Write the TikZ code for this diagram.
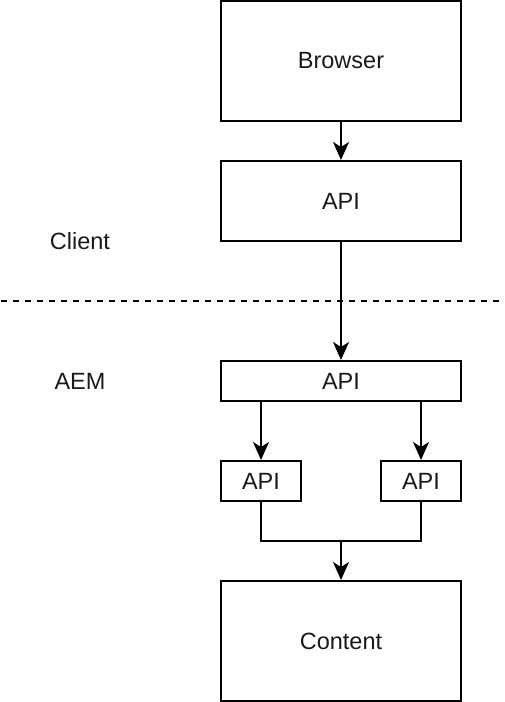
\documentclass[tikz,border=0pt]{standalone}
\usepackage{fontspec}
\setmainfont{Liberation Sans}
\usetikzlibrary{arrows.meta}
\usetikzlibrary{positioning}
\tikzset{every node/.style={font=\fontsize{23.5}{28}\selectfont, text=black!90}}
\tikzset{box/.style={draw, line width=2pt, inner sep=0pt, minimum width=240, minimum height=80}}
\tikzset{arr/.style={line width=2pt, -{Stealth[length=18pt, width=16pt, inset=5pt]}}}

\begin{document}
\begin{tikzpicture}[x=1pt, y=-1pt]

\useasboundingbox (0,0) rectangle (504,702);

% client side
\node[box, minimum height=120] (browser) at (341,61) {Browser};
\node[box] (capi) at (341,201) {API};

\node (client) at (80,241) {Client};

% trennlinie
\coordinate (DL) at (1,301);
\coordinate (DR) at (501,301);
\draw[line width=2pt, dash pattern=on 6pt off 6pt] (DL) -- (DR);

% AEM side
\node (aem) at (80,381) {AEM};

\node[box, minimum height=40] (aapi) at (341,381) {API};
\node[box, minimum width=80, minimum height=40] (lapi) at (261,481) {API};
\node[box, minimum width=80, minimum height=40] (rapi) at (421,481) {API};
\node[box, minimum height=120] (content) at (341,641) {Content};

\coordinate (join) at (341,541);

\draw[arr] (browser) -- (capi);
\draw[arr] (capi) -- (aapi);
\draw[arr] (aapi.south -| lapi.north) -- (lapi);
\draw[arr] (aapi.south -| rapi.north) -- (rapi);
\draw[line width=2pt] (lapi.south) |- (join) -| (rapi.south);
\draw[arr] (join) -- (content);

\end{tikzpicture}
\end{document}
